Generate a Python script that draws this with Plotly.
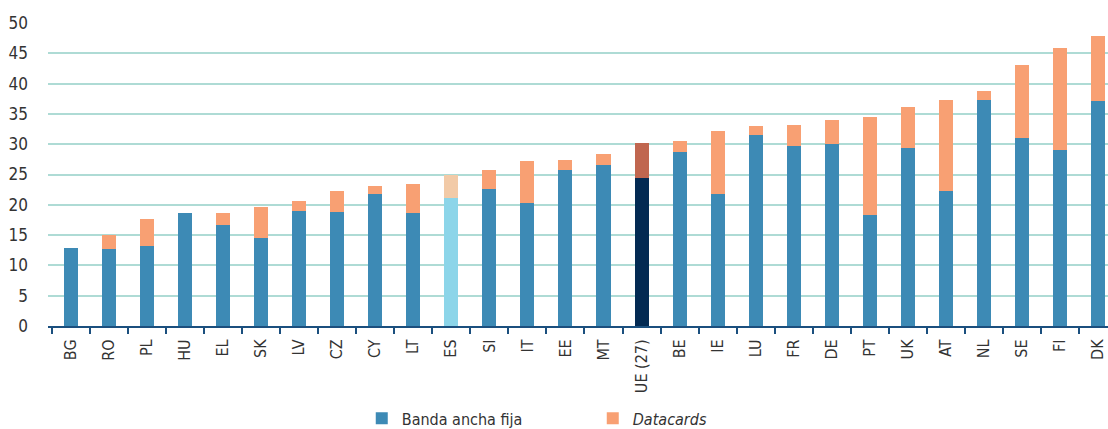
import plotly.graph_objects as go

categories = ["BG", "RO", "PL", "HU", "EL", "SK", "LV", "CZ", "CY", "LT", "ES", "SI", "IT", "EE",
              "MT", "UE (27)", "BE", "IE", "LU", "FR", "DE", "PT", "UK", "AT", "NL", "SE", "FI", "DK"]
banda_ancha_fija = [12.9, 12.7, 13.2, 18.6, 16.7, 14.5, 19.0, 18.8, 21.8, 18.6, 21.1, 22.6, 20.3, 25.7,
                    26.6, 24.4, 28.7, 21.8, 31.5, 29.7, 30.0, 18.3, 29.4, 22.3, 37.3, 31.0, 29.0, 37.1]
datacards = [0.0, 2.3, 4.5, 0.0, 1.9, 5.1, 1.6, 3.5, 1.3, 4.8, 3.8, 3.1, 6.9, 1.7,
             1.8, 5.8, 1.8, 10.4, 1.5, 3.5, 4.0, 16.2, 6.7, 15.0, 1.5, 12.1, 16.9, 10.8]
y_ticks = [0, 5, 10, 15, 20, 25, 30, 35, 40, 45, 50]

BLUE, ORANGE = "#3d8ab5", "#f8a073"
ES_BLUE, ES_ORANGE = "#8cd5e9", "#f2caa7"
UE_BLUE, UE_ORANGE = "#032a53", "#c0664f"

def pick(c, normal, es, ue):
    return es if c == "ES" else (ue if c == "UE (27)" else normal)

blue_colors = [pick(c, BLUE, ES_BLUE, UE_BLUE) for c in categories]
orange_colors = [pick(c, ORANGE, ES_ORANGE, UE_ORANGE) for c in categories]

FONT = "DejaVu Sans Condensed, Liberation Sans Narrow, Liberation Sans, sans-serif"

fig = go.Figure()
fig.add_trace(go.Bar(x=categories, y=banda_ancha_fija, name="Banda ancha fija",
                     marker=dict(color=blue_colors, line=dict(width=0)), width=0.37))
fig.add_trace(go.Bar(x=categories, y=datacards, name="<i>Datacards</i>",
                     marker=dict(color=orange_colors, line=dict(width=0)), width=0.37))

fig.update_layout(
    barmode="stack",
    width=1108, height=429,
    margin=dict(l=48, r=0, t=23, b=103, autoexpand=False),
    plot_bgcolor="white", paper_bgcolor="white",
    font=dict(family=FONT, size=16, color="#333333"),
    showlegend=True,
    legend=dict(orientation="h", x=0.296, xanchor="left", y=-0.305, yanchor="middle",
                font=dict(family=FONT, size=16, color="#333333"),
                entrywidth=186, traceorder="normal", itemclick=False),
    xaxis=dict(
        type="category", range=[-0.60, 27.26], automargin=False,
        tickangle=-90, tickson="boundaries",
        ticks="outside", ticklen=6, tickwidth=2, tickcolor="#1b4f7e",
        showline=True, linecolor="#1b4f7e", linewidth=2,
        ticklabelstandoff=5,
        showgrid=False, tickfont=dict(family=FONT, size=16, color="#333333"),
    ),
    yaxis=dict(
        range=[0, 50], tickvals=y_ticks, ticktext=[str(v) for v in y_ticks], automargin=False,
        showgrid=True, gridcolor="#aedbd5", gridwidth=1.5,
        zeroline=False, showline=False, ticks="",
        ticklabelstandoff=19,
        tickfont=dict(family=FONT, size=17, color="#333333"),
    ),
)

fig.write_html("out.html", config={"displayModeBar": False},
               post_script="document.body.style.margin='0';document.body.style.overflow='hidden';")
